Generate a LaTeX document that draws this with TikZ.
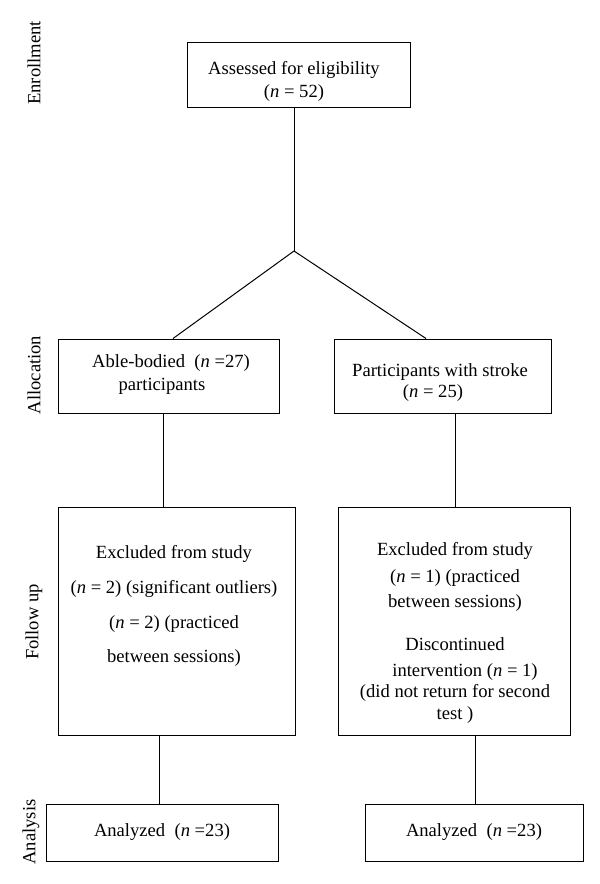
\documentclass[tikz,border=0pt]{standalone}
\usepackage{fontspec}
\setmainfont{Liberation Serif}
\usetikzlibrary{calc}

\begin{document}
\begin{tikzpicture}[x=1pt, y=-1pt, line width=1pt,
		box/.style={draw, rectangle, inner sep=0pt},
		txt/.style={align=center, inner sep=0pt, font=\fontsize{18.6}{24}\selectfont},
		side/.style={rotate=90, inner sep=0pt, font=\fontsize{18.6}{24}\selectfont}]
			%%%%% START %%%%%
			\useasboundingbox (0, 0) rectangle (600, 884);
			
			\node[side] (enrl) at (34, 63) {Enrollment};
			\node[side] (alloc) at (34, 375) {Allocation};
			\node[side] (follow) at (34, 622) {Follow up};
			\node[side] (anal) at (31, 832) {Analysis};
			
			\node[box, minimum width=223, minimum height=65] (assess) at (298.5, 74.5) {};
			\node[txt] (assesstxt) at (294, 81) {Assessed for eligibility\\[-1pt](\textit{n} = 52)};
			
			\node[box, minimum width=221, minimum height=74] (able) at (168.5, 376) {};
			\node[txt] (abletxt) at (171, 375) {Able-bodied\ \ (\textit{n} =27)\\[-1pt]participants\hspace*{18pt}};
			
			\node[box, minimum width=217, minimum height=74] (stroke) at (442.5, 376) {};
			\node[txt] (stroketxt) at (440, 383) {Participants with stroke\\[-3pt](\textit{n} = 25)\hspace*{14pt}};
			
			\node[box, minimum width=237, minimum height=228] (exclab) at (176.5, 621) {};
			\node[txt] (exclabtxt) at (174, 605.5) {Excluded from study\\[11pt](\textit{n} = 2) (significant outliers)\\[11pt](\textit{n} = 2) (practiced\\[10pt]between sessions)};
			
			\node[box, minimum width=232, minimum height=228] (exclst) at (454, 621) {};
			\node[txt] (exclsttxt) at (455, 632.5) {Excluded from study\\[3pt](\textit{n} = 1) (practiced\\[1pt]between sessions)\\[19pt]Discontinued\hspace*{14pt}\\[2pt]\hspace*{20pt}intervention (\textit{n} = 1)\\[-3pt](did not return for second\\[-2pt]test )};
			
			\node[box, txt, minimum width=232, minimum height=57] (anab) at (162, 832.5) {Analyzed\ \ (\textit{n} =23)};
			\node[box, txt, minimum width=218, minimum height=57] (anst) at (474, 832.5) {Analyzed\ \ (\textit{n} =23)};
			
			\coordinate (split) at (294, 251);
			\draw (split |- assess.south) -- (split);
			\draw (split) -- ([xshift=4.5pt]able.north);
			\draw (split) -- ([xshift=-16.5pt]stroke.north);
			
			\draw ([xshift=-5.5pt]able.south) -- ([xshift=-5.5pt]able.south |- exclab.north);
			\draw ([xshift=12.5pt]stroke.south) -- ([xshift=12.5pt]stroke.south |- exclst.north);
			\draw ([xshift=-17.5pt]exclab.south) -- ([xshift=-17.5pt]exclab.south |- anab.north);
			\draw ([xshift=21pt]exclst.south) -- ([xshift=21pt]exclst.south |- anst.north);
			
			%%%%% END %%%%%
\end{tikzpicture}
\end{document}
